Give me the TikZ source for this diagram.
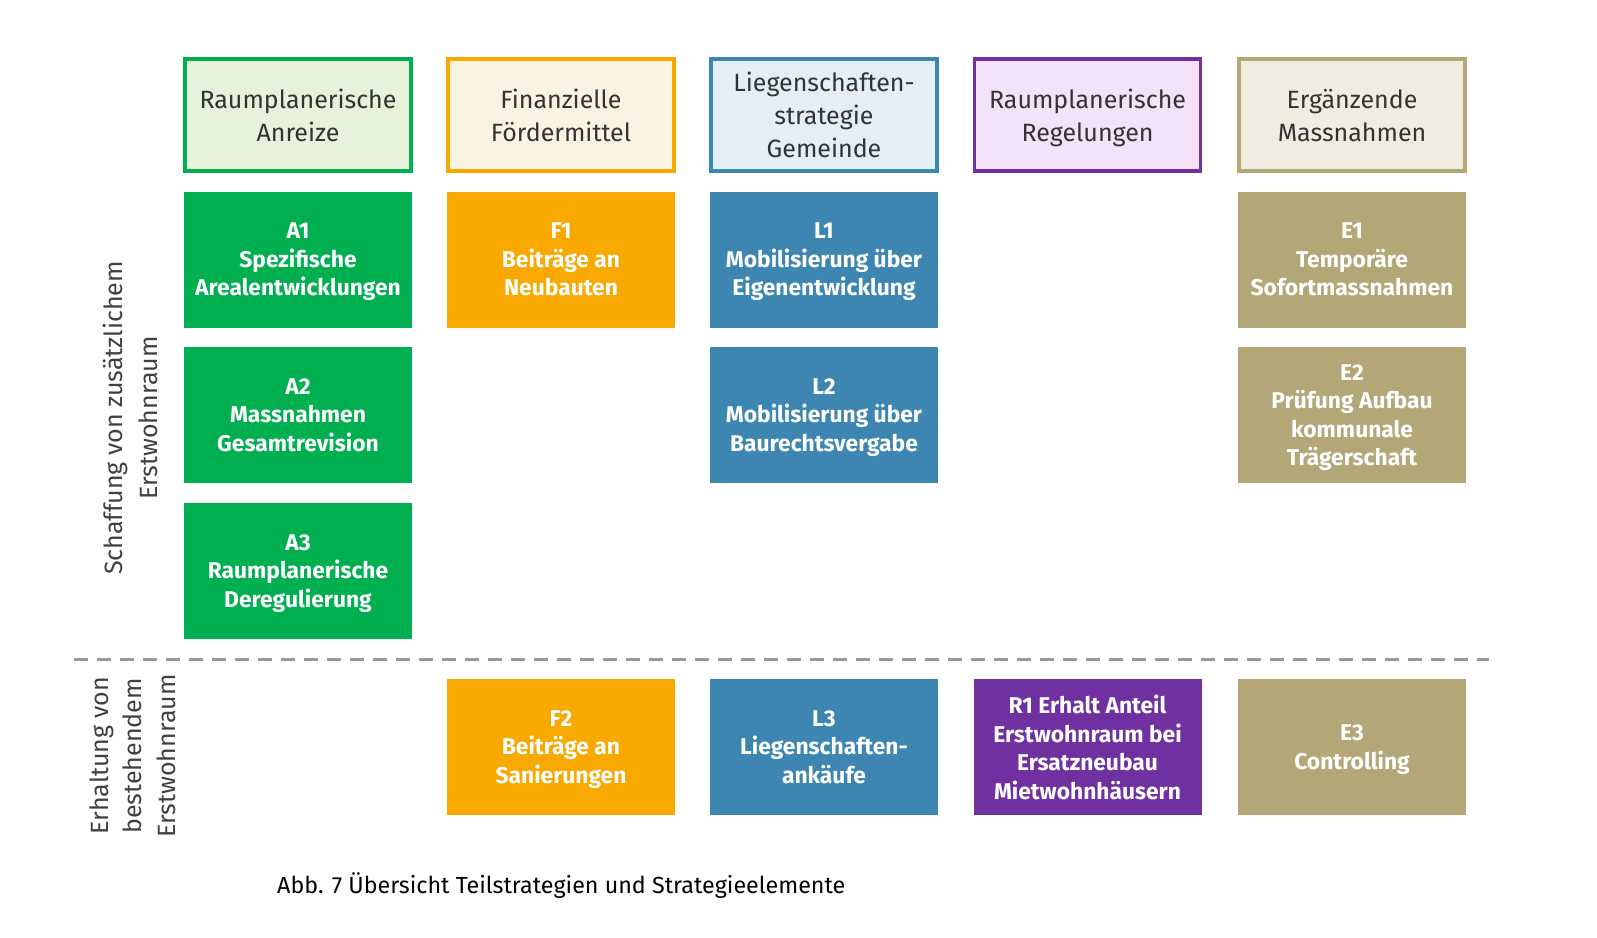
\documentclass[tikz,border=0pt]{standalone}
\usepackage{fontspec}
\setmainfont{Fira Sans}
\usetikzlibrary{calc}
\definecolor{gruen}{RGB}{0,175,80}
\definecolor{gruenhell}{RGB}{230,242,217}
\definecolor{gelb}{RGB}{249,168,0}
\definecolor{gelbhell}{RGB}{251,243,225}
\definecolor{blau}{RGB}{60,134,177}
\definecolor{blauhell}{RGB}{228,238,245}
\definecolor{violett}{RGB}{112,48,160}
\definecolor{violetthell}{RGB}{243,226,250}
\definecolor{khaki}{RGB}{179,167,120}
\definecolor{khakihell}{RGB}{239,237,224}
\tikzset{
  kopf/.style={draw=#1, fill=#1hell, line width=3.5pt, minimum width=226pt,
    minimum height=112pt, inner sep=0pt, align=center, text=black!80,
    font=\fontsize{25}{33}\selectfont, text depth=0pt},
  feld/.style={fill=#1, minimum width=228pt, minimum height=136pt, inner sep=0pt,
    align=center, text=white, font=\bfseries\fontsize{22.8}{28.5}\selectfont,
    text depth=-2pt},
  seite/.style={rotate=90, align=center, text=black!75, inner sep=0pt}
}
\begin{document}
\begin{tikzpicture}[x=1pt,y=-1pt]
\useasboundingbox[fill=white] (0,0) rectangle (1597,937);
% Teilstrategien
\node[kopf=gruen]   (hA) at (298,115)    {Raumplanerische\\Anreize};
\node[kopf=gelb]    (hF) at (561,115)    {Finanzielle\\Fördermittel};
\node[kopf=blau]    (hL) at (824,115)    {Liegenschaften-\\strategie\\Gemeinde};
\node[kopf=violett] (hR) at (1087.5,115) {Raumplanerische\\Regelungen};
\node[kopf=khaki]   (hE) at (1352,115)   {Ergänzende\\Massnahmen};
% Strategieelemente
\node[feld=gruen]   (A1) at (298,259.5)  {A1\\Spezifische\\Arealentwicklungen};
\node[feld=gruen]   (A2) at (298,415)    {A2\\Massnahmen\\Gesamtrevision};
\node[feld=gruen]   (A3) at (298,571)    {A3\\Raumplanerische\\Deregulierung};
\node[feld=gelb]    (F1) at (561,259.5)  {F1\\Beiträge an\\Neubauten};
\node[feld=gelb]    (F2) at (561,747)    {F2\\Beiträge an\\Sanierungen};
\node[feld=blau]    (L1) at (824,259.5)  {L1\\Mobilisierung über\\Eigenentwicklung};
\node[feld=blau]    (L2) at (824,415)    {L2\\Mobilisierung über\\Baurechtsvergabe};
\node[feld=blau]    (L3) at (824,747)    {L3\\Liegenschaften-\\ankäufe};
\node[feld=violett] (R1) at (1087.5,747) {R1 Erhalt Anteil\\Erstwohnraum bei\\Ersatzneubau\\Mietwohnhäusern};
\node[feld=khaki]   (E1) at (1352,259.5) {E1\\Temporäre\\Sofortmassnahmen};
\node[feld=khaki]   (E2) at (1352,415)   {E2\\Prüfung Aufbau\\kommunale\\Trägerschaft};
\node[feld=khaki]   (E3) at (1352,747)   {E3\\Controlling};
% Trennlinie und Beschriftung
\coordinate (t1) at (74,659);
\coordinate (t2) at (1489,659);
\draw[black!40, line width=3pt, dash pattern=on 14pt off 9pt] (t1) -- (t2);
\node[seite, font=\fontsize{25}{35}\selectfont] (schaffung) at (130.5,418) {Schaffung von zusätzlichem\\Erstwohnraum};
\node[seite, font=\fontsize{25}{33.5}\selectfont] (erhaltung) at (132.5,756) {Erhaltung von\\bestehendem\\Erstwohnraum};
\node[anchor=west, inner sep=0pt, font=\fontsize{23.3}{27}\selectfont] (abb) at (277,886) {Abb. 7 Übersicht Teilstrategien und Strategieelemente};
\end{tikzpicture}
\end{document}
